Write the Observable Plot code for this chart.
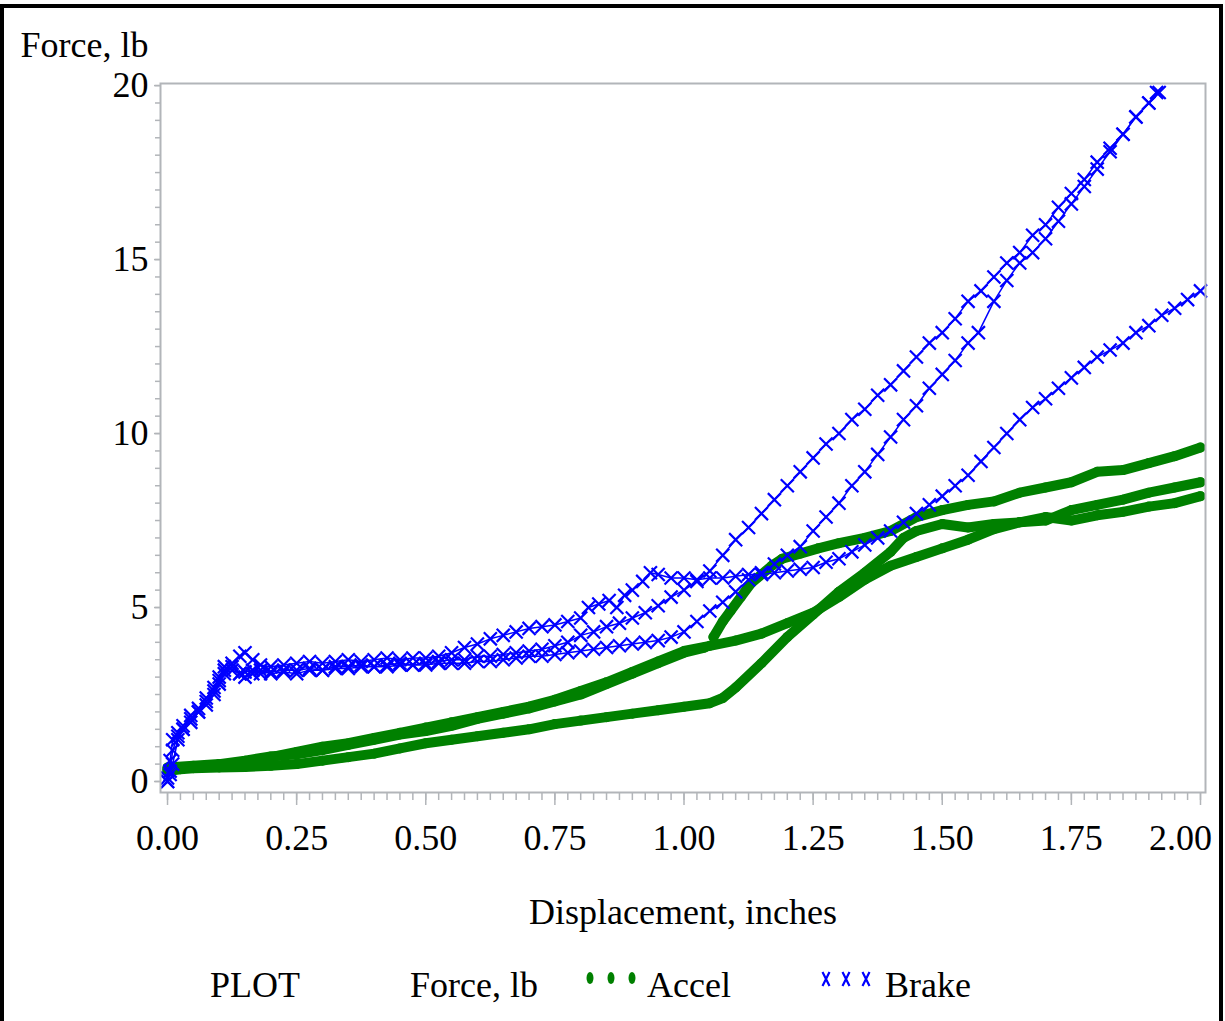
<!DOCTYPE html>
<html>
<head>
<meta charset="utf-8">
<script src="https://cdn.jsdelivr.net/npm/d3@7"></script>
<script src="https://cdn.jsdelivr.net/npm/@observablehq/plot@0.6"></script>
<style>
  html, body { margin: 0; padding: 0; background: #fff; }
  #wrap { position: relative; width: 1225px; height: 1021px; overflow: hidden; font-family: "Liberation Serif", "Times New Roman", serif; }
  #border { position: absolute; left: 0; top: 4px; width: 1223px; height: 1040px; border: 4px solid #000; box-sizing: border-box; pointer-events: none; }
  #chart { position: absolute; left: 0; top: 0; }
  .leg { position: absolute; top: 965px; line-height: 40px; font-size: 36px; color: #000; white-space: nowrap; }
  #legsym { position: absolute; left: 0; top: 960px; }
</style>
</head>
<body>
<div id="wrap">
  <div id="chart"></div>
  <div class="leg" style="left:210px">PLOT</div>
  <div class="leg" style="left:410px">Force, lb</div>
  <div class="leg" style="left:647px">Accel</div>
  <div class="leg" style="left:885px">Brake</div>
  <svg id="legsym" width="1225" height="50"></svg>
  <div id="border"></div>
</div>
<script>
// ---- data (Displacement, inches ; Force, lb) ----
const xTicks = [0, 0.25, 0.5, 0.75, 1, 1.25, 1.5, 1.75, 2];
const xTicksLabelled = [0, 0.25, 0.5, 0.75, 1, 1.25, 1.5, 1.75];
const xLastTick = [2];
const yTicks = [0, 5, 10, 15, 20];
const seriesNames = ["Accel", "Brake"];
const legendLabels = ["PLOT", "Force, lb"];

const brake1 = [[0,0],[0.005,0.3],[0.01,0.9],[0.02,1.3],[0.03,1.5],[0.045,1.8],[0.06,2.0],[0.075,2.3],[0.09,2.6],[0.1,2.9],[0.11,3.2],[0.125,3.4],[0.14,3.6],[0.15,3.7],[0.165,3.5],[0.18,3.35],[0.2,3.3],[0.225,3.35],[0.25,3.4],[0.275,3.45],[0.3,3.4],[0.325,3.45],[0.35,3.5],[0.375,3.45],[0.4,3.5],[0.425,3.55],[0.45,3.5],[0.475,3.55],[0.5,3.55],[0.525,3.6],[0.55,3.7],[0.575,3.85],[0.6,3.95],[0.625,4.1],[0.65,4.2],[0.675,4.3],[0.7,4.4],[0.725,4.45],[0.75,4.5],[0.775,4.6],[0.8,4.7],[0.815,5.0],[0.835,5.1],[0.855,5.2],[0.87,5.0],[0.885,5.35],[0.9,5.5],[0.92,5.75],[0.935,6.0],[0.95,5.95],[0.975,5.85],[1.0,5.85],[1.025,5.8],[1.05,5.85],[1.075,5.85],[1.1,5.9],[1.125,5.95],[1.15,5.95],[1.175,6.0],[1.2,6.05],[1.225,6.1],[1.25,6.15],[1.275,6.3],[1.3,6.4],[1.325,6.6],[1.35,6.8],[1.375,7.0],[1.4,7.2],[1.425,7.45],[1.45,7.7],[1.475,7.95],[1.5,8.2],[1.525,8.5],[1.55,8.8],[1.575,9.2],[1.6,9.6],[1.625,10.0],[1.65,10.4],[1.675,10.75],[1.7,11.0],[1.725,11.3],[1.75,11.6],[1.775,11.9],[1.8,12.2],[1.825,12.4],[1.85,12.6],[1.875,12.9],[1.9,13.1],[1.925,13.4],[1.95,13.6],[1.975,13.85],[2.0,14.1]];

const brake2 = [[0,0.1],[0.005,0.6],[0.01,1.2],[0.02,1.4],[0.03,1.6],[0.045,1.9],[0.06,2.1],[0.075,2.4],[0.09,2.7],[0.1,3.0],[0.11,3.3],[0.125,3.2],[0.14,3.1],[0.15,3.15],[0.165,3.2],[0.18,3.1],[0.2,3.15],[0.225,3.2],[0.25,3.2],[0.275,3.25],[0.3,3.2],[0.325,3.3],[0.35,3.3],[0.375,3.35],[0.4,3.3],[0.425,3.35],[0.45,3.4],[0.475,3.35],[0.5,3.4],[0.525,3.45],[0.55,3.5],[0.575,3.5],[0.6,3.6],[0.625,3.6],[0.65,3.65],[0.675,3.7],[0.7,3.75],[0.725,3.8],[0.75,3.9],[0.775,4.0],[0.8,4.2],[0.825,4.3],[0.85,4.45],[0.875,4.55],[0.9,4.7],[0.925,4.85],[0.95,5.05],[0.975,5.3],[1.0,5.5],[1.025,5.75],[1.05,6.05],[1.075,6.5],[1.1,6.95],[1.125,7.3],[1.15,7.7],[1.175,8.1],[1.2,8.5],[1.225,8.9],[1.25,9.3],[1.275,9.7],[1.3,10.0],[1.325,10.4],[1.35,10.7],[1.375,11.1],[1.4,11.4],[1.425,11.8],[1.45,12.2],[1.475,12.6],[1.5,12.9],[1.525,13.3],[1.55,13.8],[1.575,14.1],[1.6,14.5],[1.625,14.9],[1.65,15.2],[1.675,15.7],[1.7,16.0],[1.725,16.5],[1.75,16.9],[1.775,17.3],[1.8,17.8],[1.825,18.2],[1.85,18.6],[1.875,19.1],[1.9,19.5],[1.915,19.8]];

const brake3 = [[0,0],[0.005,0.2],[0.01,0.5],[0.02,1.2],[0.03,1.5],[0.045,1.7],[0.06,2.0],[0.075,2.2],[0.09,2.5],[0.1,2.8],[0.11,3.1],[0.125,3.3],[0.14,3.1],[0.15,3.0],[0.165,3.1],[0.18,3.2],[0.2,3.1],[0.225,3.15],[0.25,3.1],[0.275,3.2],[0.3,3.2],[0.325,3.25],[0.35,3.25],[0.375,3.3],[0.4,3.3],[0.425,3.3],[0.45,3.35],[0.475,3.35],[0.5,3.35],[0.525,3.4],[0.55,3.4],[0.575,3.4],[0.6,3.45],[0.625,3.45],[0.65,3.5],[0.675,3.55],[0.7,3.6],[0.725,3.6],[0.75,3.65],[0.775,3.7],[0.8,3.75],[0.825,3.8],[0.85,3.85],[0.875,3.9],[0.9,3.95],[0.925,4.0],[0.95,4.05],[0.975,4.15],[1.0,4.3],[1.025,4.6],[1.05,4.9],[1.075,5.15],[1.1,5.45],[1.125,5.8],[1.15,6.0],[1.175,6.25],[1.2,6.5],[1.225,6.75],[1.25,7.2],[1.275,7.6],[1.3,8.0],[1.325,8.5],[1.35,8.9],[1.375,9.4],[1.4,9.9],[1.425,10.4],[1.45,10.8],[1.475,11.3],[1.5,11.7],[1.525,12.1],[1.55,12.6],[1.57,12.9],[1.6,13.8],[1.625,14.4],[1.65,14.9],[1.675,15.2],[1.7,15.6],[1.725,16.1],[1.75,16.6],[1.775,17.1],[1.8,17.6],[1.825,18.1],[1.85,18.6],[1.875,19.1],[1.9,19.5],[1.92,19.8]];

const accel1 = [[0,0.35],[0.025,0.4],[0.05,0.42],[0.1,0.45],[0.15,0.55],[0.2,0.7],[0.25,0.85],[0.3,1.0],[0.35,1.1],[0.4,1.25],[0.45,1.4],[0.5,1.55],[0.55,1.7],[0.6,1.85],[0.65,2.0],[0.7,2.15],[0.75,2.35],[0.8,2.6],[0.85,2.85],[0.9,3.15],[0.95,3.45],[1.0,3.75],[1.05,3.9],[1.1,4.05],[1.15,4.25],[1.2,4.55],[1.25,4.85],[1.3,5.3],[1.35,5.8],[1.4,6.2],[1.45,6.45],[1.5,6.7],[1.55,6.95],[1.6,7.25],[1.65,7.45],[1.7,7.6],[1.75,7.5],[1.8,7.65],[1.85,7.75],[1.9,7.9],[1.95,8.0],[2.0,8.2]];

const accel2 = [[0,0.3],[0.025,0.35],[0.05,0.38],[0.1,0.4],[0.15,0.42],[0.2,0.45],[0.25,0.5],[0.3,0.6],[0.35,0.7],[0.4,0.8],[0.45,0.95],[0.5,1.1],[0.55,1.2],[0.6,1.3],[0.65,1.4],[0.7,1.5],[0.75,1.65],[0.8,1.75],[0.85,1.85],[0.9,1.95],[0.95,2.05],[1.0,2.15],[1.05,2.25],[1.075,2.4],[1.1,2.7],[1.15,3.4],[1.2,4.15],[1.25,4.8],[1.3,5.45],[1.35,6.0],[1.4,6.6],[1.425,7.0],[1.45,7.2],[1.5,7.4],[1.55,7.3],[1.6,7.4],[1.65,7.45],[1.7,7.5],[1.75,7.8],[1.8,7.95],[1.85,8.1],[1.9,8.3],[1.95,8.45],[2.0,8.6]];

const accel3a = [[0,0.4],[0.05,0.45],[0.1,0.5],[0.15,0.6],[0.2,0.72],[0.25,0.78],[0.3,0.9],[0.35,1.05],[0.4,1.2],[0.45,1.35],[0.5,1.45],[0.55,1.6],[0.6,1.8],[0.65,1.95],[0.7,2.1],[0.75,2.3],[0.8,2.5],[0.85,2.8],[0.9,3.1],[0.95,3.4],[1.0,3.7],[1.04,3.85]];

const accel3b = [[1.057,4.15],[1.075,4.6],[1.09,4.9],[1.11,5.3],[1.13,5.7],[1.15,5.95],[1.17,6.2],[1.19,6.4],[1.225,6.55],[1.26,6.7],[1.3,6.85],[1.35,7.0],[1.4,7.2],[1.45,7.6],[1.5,7.8],[1.55,7.95],[1.6,8.05],[1.65,8.3],[1.7,8.45],[1.75,8.6],[1.8,8.9],[1.85,8.95],[1.9,9.15],[1.95,9.35],[2.0,9.6]];

// ---- styling ----
const GREEN = "#008000";
const BLUE = "#0000ff";
const GRAY = "#b2b5b9";
const FONT = '"Liberation Serif", "Times New Roman", serif';

const accelSets = [accel1, accel2, accel3a, accel3b];
const brakeSets = [brake1, brake2, brake3];
const X = d => d[0], Y = d => d[1];

const marks = [];
for (const s of accelSets) {
  marks.push(Plot.line(s, {x: X, y: Y, stroke: GREEN, strokeWidth: 10, strokeLinecap: "round", strokeLinejoin: "round"}));
  marks.push(Plot.dot(s, {x: X, y: Y, r: 5, fill: GREEN, stroke: "none"}));
}
for (const s of brakeSets) {
  marks.push(Plot.line(s, {x: X, y: Y, stroke: BLUE, strokeWidth: 1.5}));
  marks.push(Plot.dot(s, {x: X, y: Y, symbol: "times", r: 6, stroke: BLUE, strokeWidth: 2.2, fill: "none"}));
}

const axisText = {fill: "#000", fontSize: 36, fontFamily: FONT, label: null, tickSize: 0, tickPadding: 32};

const chart = Plot.plot({
  width: 1225,
  height: 940,
  marginLeft: 160,
  marginTop: 83,
  marginRight: 20,
  marginBottom: 148,
  style: {fontFamily: FONT, fontSize: "36px", background: "transparent", color: "#000"},
  x: {domain: [-0.0136, 2.0097], label: null},
  y: {domain: [-0.316, 20.06], label: null},
  marks: [
    ...marks,
    Plot.frame({stroke: GRAY, strokeWidth: 2}),
    Plot.axisX({ticks: d3.range(0, 2.0001, 0.025), tickSize: 8, tickFormat: () => "", stroke: GRAY, strokeWidth: 1.5, label: null}),
    Plot.axisX({ticks: xTicks, tickSize: 13, tickFormat: () => "", stroke: GRAY, strokeWidth: 1.5, label: null}),
    Plot.axisX({ticks: xTicksLabelled, tickFormat: d3.format(".2f"), ...axisText}),
    Plot.axisX({ticks: xLastTick, tickFormat: d3.format(".2f"), dx: -20, ...axisText}),
    Plot.axisY({ticks: d3.range(0, 20.001, 0.5), tickSize: 5, tickFormat: () => "", stroke: GRAY, strokeWidth: 1.5, label: null}),
    Plot.axisY({ticks: yTicks, tickSize: 6, tickPadding: 6, tickFormat: d3.format("d"), stroke: GRAY, strokeWidth: 1.5, fill: "#000", fontSize: 36, fontFamily: FONT, label: null}),
    Plot.text(["Force, lb"], {frameAnchor: "top-left", text: d => d, dx: -140, dy: -38, textAnchor: "start", lineAnchor: "middle", fontSize: 36, fontFamily: FONT, fill: "#000"}),
    Plot.text(["Displacement, inches"], {frameAnchor: "bottom", text: d => d, dy: 120, lineAnchor: "middle", fontSize: 36, fontFamily: FONT, fill: "#000"})
  ]
});
document.getElementById("chart").appendChild(chart);

// ---- legend symbols ----
const leg = d3.select("#legsym");
[590, 611, 632].forEach(cx => leg.append("ellipse").attr("cx", cx).attr("cy", 18).attr("rx", 3.5).attr("ry", 6).attr("fill", GREEN));
[826, 846, 866].forEach(cx => {
  leg.append("path").attr("d", `M${cx-3.5},12 L${cx+3.5},26 M${cx+3.5},12 L${cx-3.5},26`)
    .attr("stroke", BLUE).attr("stroke-width", 2.2).attr("fill", "none");
});
</script>
</body>
</html>
